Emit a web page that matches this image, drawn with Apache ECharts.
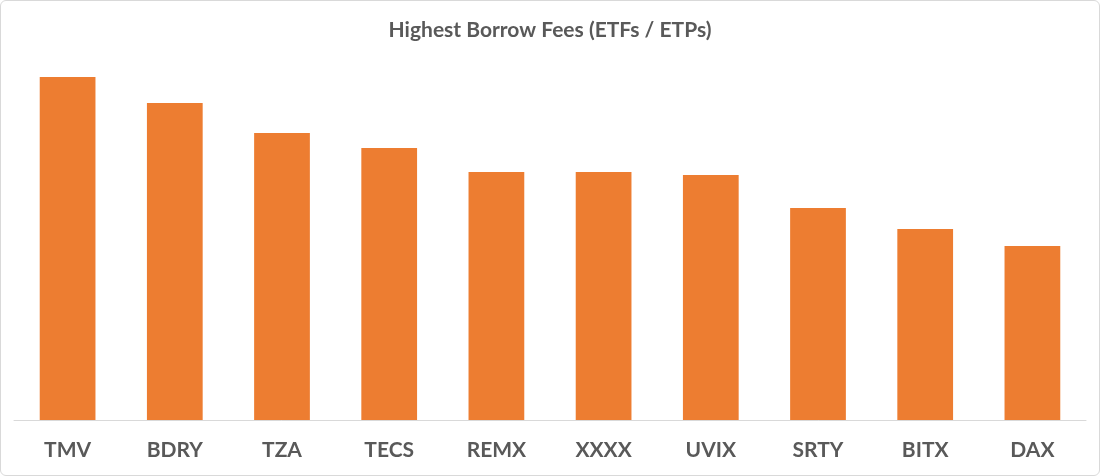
<!DOCTYPE html>
<html><head><meta charset="utf-8">
<script src="https://cdn.jsdelivr.net/npm/echarts@6/dist/echarts.min.js"></script>
<style>html,body{margin:0;padding:0;background:#fff}#c{width:1100px;height:476px;box-sizing:border-box;border:1px solid #d9d9d9;border-radius:6px}</style>
</head><body><div id="c"></div>
<script>
const categories = ["TMV","BDRY","TZA","TECS","REMX","XXXX","UVIX","SRTY","BITX","DAX"];
const fees = [343,317,287,272,248,248,245,212,191,174];
const chart = echarts.init(document.getElementById('c'));
chart.setOption({
  animation:false,
  title:{text:'Highest Borrow Fees (ETFs / ETPs)',left:'center',top:14,textStyle:{fontFamily:'Lato',fontWeight:'bold',fontSize:21,color:'#595959'}},
  grid:{left:13,right:13,top:59,bottom:55},
  xAxis:{type:'category',data:categories,axisTick:{show:false},axisLine:{lineStyle:{color:'#d9d9d9',width:1}},
    axisLabel:{fontFamily:'Lato',fontWeight:'bold',fontSize:21,color:'#595959',margin:20}},
  yAxis:{type:'value',min:0,max:360,show:false,splitLine:{show:false}},
  series:[{type:'bar',data:fees,barWidth:'52%',itemStyle:{color:'#ed7d31'}}]
});
</script></body></html>
